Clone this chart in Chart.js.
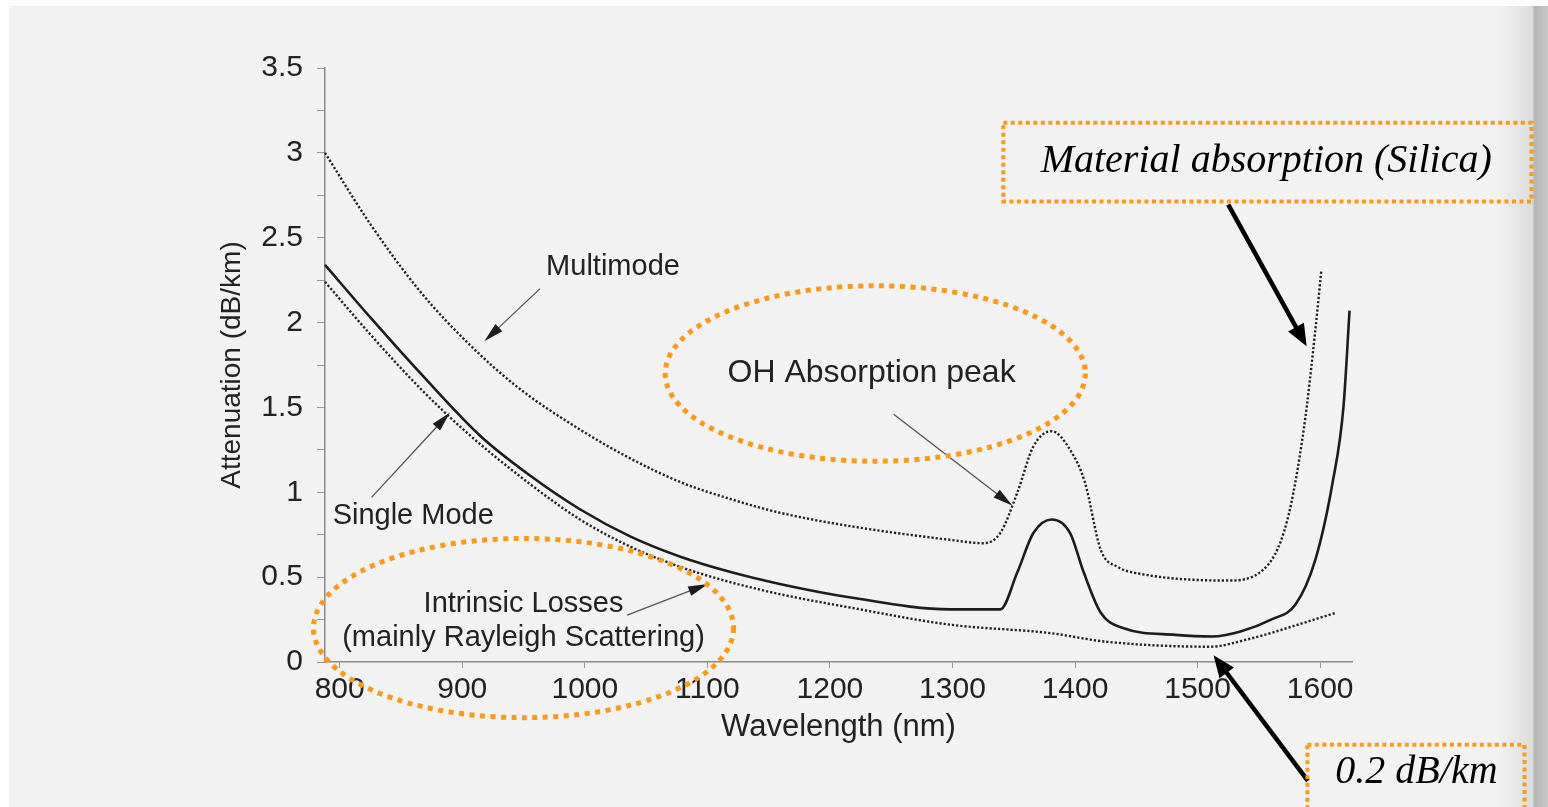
<!DOCTYPE html>
<html>
<head>
<meta charset="utf-8">
<script src="https://cdn.jsdelivr.net/npm/chart.js@4.4.1/dist/chart.umd.min.js"></script>
<style>
  html, body { margin: 0; padding: 0; background: #fff; }
  #wrap { width: 1548px; height: 807px; }
</style>
</head>
<body>
<div id="wrap"><canvas id="lossChart" width="1548" height="807"></canvas></div>
<script>
// values
const mmWavelength = [788, 825, 866, 906, 945, 996, 1037, 1078, 1119, 1159, 1217, 1298, 1325, 1339, 1353, 1366, 1381, 1396, 1408, 1421, 1435, 1453, 1524, 1553, 1573, 1587, 1596, 1601];
const mmLoss = [3.00, 2.58, 2.18, 1.87, 1.62, 1.37, 1.20, 1.06, 0.96, 0.88, 0.80, 0.72, 0.70, 0.76, 1.00, 1.27, 1.36, 1.25, 1.06, 0.66, 0.56, 0.52, 0.48, 0.54, 0.83, 1.39, 1.95, 2.31];

const smWavelength = [788, 825, 866, 915, 955, 996, 1037, 1078, 1119, 1159, 1217, 1298, 1339, 1353, 1366, 1381, 1396, 1407, 1421, 1439, 1482, 1512, 1535, 1560, 1580, 1596, 1610, 1619, 1624];
const smLoss = [2.34, 2.03, 1.70, 1.33, 1.10, 0.90, 0.74, 0.62, 0.53, 0.46, 0.38, 0.31, 0.31, 0.53, 0.76, 0.84, 0.76, 0.53, 0.29, 0.20, 0.16, 0.15, 0.18, 0.25, 0.34, 0.60, 1.05, 1.50, 2.07];

const rsWavelength = [788, 825, 866, 904, 955, 996, 1037, 1078, 1119, 1159, 1217, 1298, 1380, 1425, 1510, 1539, 1613];
const rsLoss = [2.24, 1.93, 1.61, 1.35, 1.05, 0.84, 0.68, 0.56, 0.47, 0.40, 0.32, 0.22, 0.17, 0.12, 0.09, 0.13, 0.29];

const xTickValues = [800, 900, 1000, 1100, 1200, 1300, 1400, 1500, 1600];
const yTickValues = [0, 0.25, 0.5, 0.75, 1, 1.25, 1.5, 1.75, 2, 2.25, 2.5, 2.75, 3, 3.25, 3.5];

const toPoints = (xs, ys) => xs.map((x, i) => ({ x: x, y: ys[i] }));

const sansFont = "'Liberation Sans', Arial, sans-serif";
const serifFont = "'Liberation Serif', 'Times New Roman', serif";
const orange = "#fb9a14";

// annotation anchors, in chart units (nm, dB/km)
const textNotes = [
  { text: "Multimode", at: [1023, 2.33], size: 29 },
  { text: "Single Mode", at: [860, 0.86], size: 29 },
  { text: "Intrinsic Losses", at: [950, 0.34], size: 29 },
  { text: "(mainly Rayleigh Scattering)", at: [950, 0.14], size: 29 },
  { text: "OH Absorption peak", at: [1234, 1.70], size: 32 },
];
const thinArrows = [
  { from: [963.5, 2.2], to: [918, 1.89] },
  { from: [826, 0.97], to: [890, 1.47] },
  { from: [1034.5, 0.276], to: [1100.6, 0.46] },
  { from: [1252, 1.46], to: [1349, 0.92] },
];
const thickArrows = [
  { from: [1525, 2.695], to: [1589, 1.86] },
  { from: [1590, -0.70], to: [1513, 0.04] },
];
const ellipses = [
  { center: [1237, 1.70], rx: 171.4, ry: 0.517 },
  { center: [950, 0.20], rx: 171.4, ry: 0.528 },
];
const boxes = [
  { from: [1341.5, 3.177], to: [1772.5, 2.713], text: "Material absorption (Silica)", textAt: [1556, 2.95] },
  { from: [1589.6, -0.487], to: [1766.8, -0.9], text: "0.2 dB/km", textAt: [1678.6, -0.652] },
];

function drawArrow(ctx, a, b, o) {
  const ang = Math.atan2(b[1] - a[1], b[0] - a[0]);
  const c = Math.cos(ang), s = Math.sin(ang);
  ctx.setLineDash([]);
  ctx.strokeStyle = o.color;
  ctx.lineWidth = o.width;
  ctx.beginPath();
  ctx.moveTo(a[0], a[1]);
  ctx.lineTo(b[0] - c * o.head * 0.7, b[1] - s * o.head * 0.7);
  ctx.stroke();
  ctx.fillStyle = o.headColor;
  ctx.beginPath();
  ctx.moveTo(b[0], b[1]);
  ctx.lineTo(b[0] - o.head * c + o.half * s, b[1] - o.head * s - o.half * c);
  ctx.lineTo(b[0] - o.head * c - o.half * s, b[1] - o.head * s + o.half * c);
  ctx.closePath();
  ctx.fill();
}

const pageBackground = {
  id: "pageBackground",
  beforeDraw(chart) {
    const { ctx, width, height } = chart;
    ctx.save();
    ctx.fillStyle = "#fdfdfd";
    ctx.fillRect(0, 0, width, height);
    ctx.fillStyle = "#f2f2f2";
    ctx.fillRect(9, 6, 1521, height - 6);
    const g = ctx.createLinearGradient(1495, 0, width, 0);
    g.addColorStop(0, "rgba(225,225,225,0)");
    g.addColorStop(0.7, "#dcdcdc");
    g.addColorStop(0.75, "#b4b4b4");
    g.addColorStop(1, "#c9c9c9");
    ctx.fillStyle = g;
    ctx.fillRect(1495, 6, width - 1495, height - 6);
    ctx.restore();
  },
};

const notes = {
  id: "notes",
  afterDatasetsDraw(chart) {
    const { ctx, scales } = chart;
    const p = (v) => [scales.x.getPixelForValue(v[0]), scales.y.getPixelForValue(v[1])];
    ctx.save();

    ctx.fillStyle = "#222";
    ctx.textAlign = "center";
    ctx.textBaseline = "middle";
    textNotes.forEach((n) => {
      ctx.font = n.size + "px " + sansFont;
      const q = p(n.at);
      ctx.fillText(n.text, q[0], q[1]);
    });

    thinArrows.forEach((a) => {
      drawArrow(ctx, p(a.from), p(a.to), { color: "#555", width: 1.3, headColor: "#1d1d1d", head: 20, half: 5 });
    });
    thickArrows.forEach((a) => {
      drawArrow(ctx, p(a.from), p(a.to), { color: "#000", width: 4.5, headColor: "#000", head: 22, half: 9 });
    });

    ctx.strokeStyle = orange;
    ctx.lineWidth = 5;
    ctx.setLineDash([5, 5.5]);
    ellipses.forEach((e) => {
      const c = p(e.center);
      const rx = Math.abs(scales.x.getPixelForValue(e.center[0] + e.rx) - c[0]);
      const ry = Math.abs(scales.y.getPixelForValue(e.center[1] + e.ry) - c[1]);
      ctx.beginPath();
      ctx.ellipse(c[0], c[1], rx, ry, 0, 0, Math.PI * 2);
      ctx.stroke();
    });

    boxes.forEach((b) => {
      const a = p(b.from), z = p(b.to);
      ctx.strokeStyle = orange;
      ctx.lineWidth = 4;
      ctx.setLineDash([4, 3.5]);
      ctx.strokeRect(a[0], a[1], z[0] - a[0], z[1] - a[1]);
      ctx.fillStyle = "#000";
      ctx.font = "italic 40px " + serifFont;
      const t = p(b.textAt);
      ctx.fillText(b.text, t[0], t[1]);
    });
    ctx.restore();
  },
};

const ctx = document.getElementById("lossChart").getContext("2d");

const lossChart = new Chart(ctx, {
  type: "line",
  data: {
    datasets: [
      {
        label: "Multimode",
        data: toPoints(mmWavelength, mmLoss),
        borderColor: "#222",
        borderWidth: 2.4,
        borderDash: [2.2, 2],
      },
      {
        label: "Single Mode",
        data: toPoints(smWavelength, smLoss),
        borderColor: "#1c1c1c",
        borderWidth: 2.6,
      },
      {
        label: "Intrinsic Losses",
        data: toPoints(rsWavelength, rsLoss),
        borderColor: "#222",
        borderWidth: 2.4,
        borderDash: [2.2, 2],
      },
    ],
  },
  options: {
    responsive: false,
    animation: false,
    devicePixelRatio: 1,
    layout: { padding: { top: 68, right: 196, bottom: 0, left: 0 } },
    elements: {
      point: { radius: 0 },
      line: { cubicInterpolationMode: "monotone", fill: false },
    },
    datasets: { line: { clip: false } },
    plugins: {
      legend: { display: false },
      tooltip: { enabled: false },
    },
    scales: {
      x: {
        type: "linear",
        min: 788,
        max: 1626,
        afterBuildTicks: (scale) => {
          scale.ticks = xTickValues.map((v) => ({ value: v }));
        },
        afterFit: (scale) => {
          scale.height = 145;
        },
        grid: { drawOnChartArea: false, tickLength: 6, color: "#999" },
        border: { color: "#8a8a8a", width: 1.5 },
        ticks: {
          color: "#222",
          padding: 4,
          maxRotation: 0,
          font: { family: sansFont, size: 30 },
          callback: (value) => String(value),
        },
        title: {
          display: true,
          text: "Wavelength (nm)",
          color: "#222",
          font: { family: sansFont, size: 31 },
          padding: { top: 0, bottom: 61 },
        },
      },
      y: {
        type: "linear",
        min: 0,
        max: 3.5,
        afterBuildTicks: (scale) => {
          scale.ticks = yTickValues.map((v) => ({ value: v }));
        },
        afterFit: (scale) => {
          scale.width = 325;
        },
        grid: { drawOnChartArea: false, tickLength: 8, color: "#999" },
        border: { color: "#8a8a8a", width: 1.5 },
        ticks: {
          color: "#222",
          padding: 14,
          font: { family: sansFont, size: 30 },
          callback: (value) => (value % 0.5 === 0 ? String(value) : ""),
        },
        title: {
          display: true,
          text: "Attenuation (dB/km)",
          color: "#222",
          font: { family: sansFont, size: 28 },
          padding: { top: 215, bottom: 0 },
        },
      },
    },
  },
  plugins: [pageBackground, notes],
});
</script>
</body>
</html>
